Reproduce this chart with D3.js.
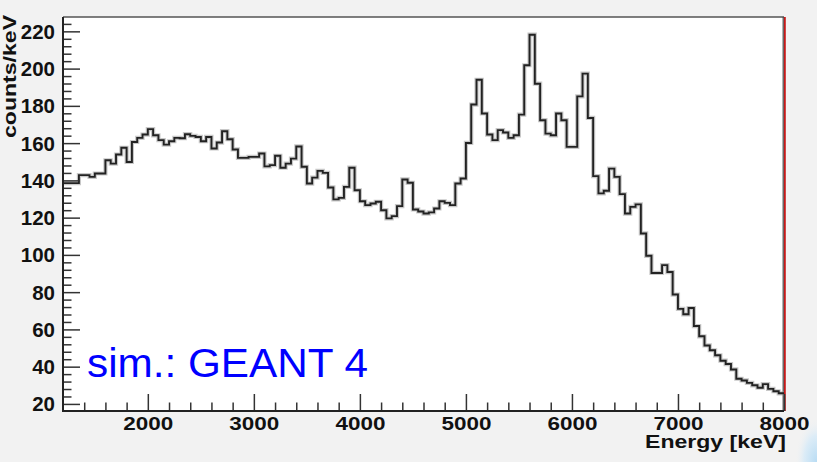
<!DOCTYPE html>
<html>
<head>
<meta charset="utf-8">
<script src="https://cdn.jsdelivr.net/npm/d3@7/dist/d3.min.js"></script>
<style>
  html, body { margin: 0; padding: 0; background: #f2f2f2; }
  svg { display: block; }
  .lbl { font-family: "Liberation Sans", Arial, sans-serif; font-weight: bold; fill: #111; }
</style>
</head>
<body>
<svg id="chart" width="817" height="462"></svg>
<script>
// Simulated energy spectrum, 50 keV bins starting at 1200 keV
const binStart = 1200;
const binWidth = 50;
const counts = [
  138.5, 138.5, 138.5, 142.8, 142.8, 141.9, 143.7, 143.7, 150.8, 149.0,
  153.9, 157.5, 149.9, 160.6, 162.8, 164.6, 167.5, 164.2, 161.6, 159.2,
  161.0, 162.8, 162.6, 164.8, 163.9, 163.3, 161.0, 163.3, 157.1, 160.3,
  166.4, 162.1, 156.6, 152.1, 152.1, 152.6, 152.6, 154.4, 147.5, 148.2,
  153.2, 146.8, 149.0, 151.7, 158.2, 147.3, 138.3, 141.5, 145.1, 144.0,
  136.2, 129.8, 130.6, 136.5, 146.8, 134.7, 128.8, 126.7, 127.6, 128.5,
  124.0, 119.6, 120.8, 126.2, 140.5, 138.7, 124.4, 123.3, 122.2, 122.8,
  124.9, 128.8, 127.9, 126.7, 138.3, 141.0, 160.1, 180.7, 194.0, 175.9,
  164.6, 161.6, 167.0, 165.7, 162.8, 164.2, 175.3, 201.8, 218.2, 191.9,
  172.3, 165.1, 164.2, 175.9, 172.3, 158.0, 158.0, 185.1, 197.3, 173.5,
  142.3, 133.0, 134.4, 146.3, 141.9, 132.6, 122.2, 125.8, 127.1, 111.5,
  99.5, 90.3, 90.3, 94.5, 90.8, 78.7, 71.0, 68.1, 71.5, 61.8,
  56.3, 51.4, 48.8, 46.1, 43.2, 41.4, 38.5, 33.5, 32.6, 31.3,
  30.0, 28.7, 30.6, 28.1, 26.8, 25.7
];
const xTickValues = [2000, 3000, 4000, 5000, 6000, 7000, 8000];
const yTickValues = [20, 40, 60, 80, 100, 120, 140, 160, 180, 200, 220];
const xTitle = "Energy [keV]";
const yTitle = "counts/keV";
const note = "sim.: GEANT 4";

const svg = d3.select("#chart");
const pLeft = 63, pRight = 784, pTop = 17, pBottom = 411;

const x = d3.scaleLinear().domain([1200, 8000]).range([pLeft, pRight]);
const y = d3.scaleLinear().domain([16.2, 227.7]).range([pBottom, pTop]);

// corner glow
const defs = svg.append("defs");
const glow = defs.append("radialGradient").attr("id", "glow")
  .attr("cx", "100%").attr("cy", "100%").attr("r", "100%");
glow.append("stop").attr("offset", "0%").attr("stop-color", "#b8dcf4");
glow.append("stop").attr("offset", "60%").attr("stop-color", "#dcecf7");
glow.append("stop").attr("offset", "100%").attr("stop-color", "#f2f2f2").attr("stop-opacity", 0);
svg.append("rect").attr("x", 795).attr("y", 418).attr("width", 22).attr("height", 44)
  .attr("fill", "url(#glow)");

// plot area
svg.append("rect").attr("x", pLeft).attr("y", pTop)
  .attr("width", pRight - pLeft).attr("height", pBottom - pTop).attr("fill", "#fff");

// frame: top and right
svg.append("line").attr("x1", pLeft).attr("x2", pRight).attr("y1", pTop).attr("y2", pTop)
  .attr("stroke", "#555").attr("stroke-width", 1.5);
svg.append("line").attr("x1", pRight - 0.8).attr("x2", pRight - 0.8).attr("y1", pTop).attr("y2", pBottom)
  .attr("stroke", "#444").attr("stroke-width", 1.2);
svg.append("line").attr("x1", pRight + 0.9).attr("x2", pRight + 0.9).attr("y1", pTop).attr("y2", pBottom)
  .attr("stroke", "#c00000").attr("stroke-width", 1.6);

// histogram outline
const pts = counts.map((c, i) => [binStart + i * binWidth, c]);
pts.push([binStart + counts.length * binWidth, counts[counts.length - 1]]);
const line = d3.line().x(d => x(d[0])).y(d => y(d[1])).curve(d3.curveStepAfter);
svg.append("path").datum(pts).attr("d", line)
  .attr("fill", "none").attr("stroke", "#9a9a9a").attr("stroke-width", 4.2).attr("stroke-opacity", 0.55);
svg.append("path").datum(pts).attr("d", line)
  .attr("fill", "none").attr("stroke", "#222").attr("stroke-width", 1.9);

// axes
const xMinor = d3.range(1400, 8000, 200).filter(v => v % 1000 !== 0);
const yMinor = d3.range(24, 228, 4).filter(v => v % 20 !== 0);

const gx = svg.append("g").attr("transform", `translate(0,${pBottom})`);
gx.append("g").call(d3.axisBottom(x).tickValues(xMinor).tickFormat("").tickSizeInner(-8.5).tickSizeOuter(0));
gx.append("g").attr("class", "major").call(d3.axisBottom(x).tickValues(xTickValues).tickFormat(d3.format("d"))
  .tickSizeInner(-17).tickSizeOuter(0).tickPadding(0));

const gy = svg.append("g").attr("transform", `translate(${pLeft},0)`);
gy.append("g").call(d3.axisLeft(y).tickValues(yMinor).tickFormat("").tickSizeInner(-8.5).tickSizeOuter(0));
gy.append("g").attr("class", "major").call(d3.axisLeft(y).tickValues(yTickValues).tickFormat(d3.format("d"))
  .tickSizeInner(-17).tickSizeOuter(0).tickPadding(8));

svg.selectAll(".domain").remove();
svg.selectAll(".tick line").attr("stroke", "#333").attr("stroke-width", 1.5);
gx.selectAll(".major .tick text").attr("class", "lbl").attr("font-size", 19)
  .attr("y", 19).attr("dy", null)
  .attr("textLength", 50).attr("lengthAdjust", "spacingAndGlyphs");
gy.selectAll(".major .tick text").attr("class", "lbl").attr("font-size", 19.5).attr("dy", "0.36em")
  .attr("textLength", d => String(d).length * 11.4).attr("lengthAdjust", "spacingAndGlyphs");
gx.append("line").attr("x1", pLeft).attr("x2", pRight).attr("stroke", "#222").attr("stroke-width", 2);
gy.append("line").attr("y1", pTop).attr("y2", pBottom + 1).attr("stroke", "#222").attr("stroke-width", 2);

// axis titles
svg.append("text").attr("class", "lbl").attr("x", 786).attr("y", 448)
  .attr("text-anchor", "end").attr("font-size", 18)
  .attr("textLength", 141).attr("lengthAdjust", "spacingAndGlyphs").text(xTitle);
svg.append("text").attr("class", "lbl").attr("transform", "translate(15.5,15) rotate(-90)")
  .attr("text-anchor", "end").attr("font-size", 18.5)
  .attr("textLength", 123).attr("lengthAdjust", "spacingAndGlyphs").text(yTitle);

// annotation
svg.append("text").attr("x", 87).attr("y", 376.5)
  .attr("font-family", "'Liberation Sans', Arial, sans-serif").attr("font-size", 40)
  .attr("fill", "#0000ff").attr("textLength", 281).attr("lengthAdjust", "spacingAndGlyphs")
  .text(note);
</script>
</body>
</html>
